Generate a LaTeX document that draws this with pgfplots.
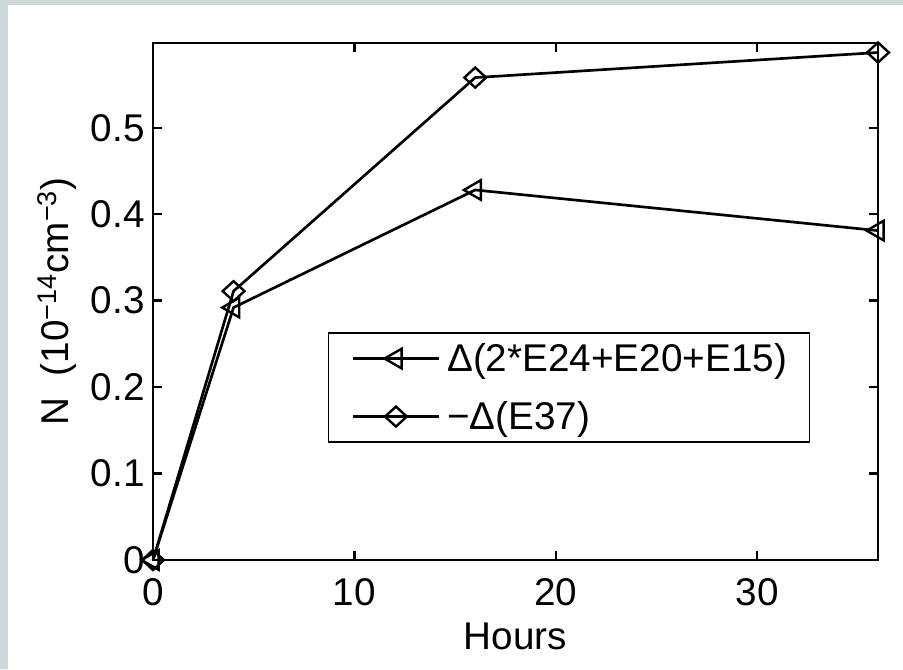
\documentclass[border=0pt]{standalone}
\usepackage{pgfplots}
\pgfplotsset{compat=1.18}
\usepackage{fontspec}
\setmainfont{Liberation Sans}
\definecolor{bgc}{HTML}{CFD8DB}
\newcommand{\F}{\fontsize{29}{34}\selectfont}
\begin{document}
\begin{tikzpicture}
\useasboundingbox (0,0) rectangle (677.25pt,501.75pt);
\fill[bgc] (0,0) rectangle (677.25pt,501.75pt);
\fill[white] (6pt,0) rectangle (677.25pt,498pt);
\begin{axis}[
  at={(114.75pt,81.75pt)}, anchor=south west,
  scale only axis, width=543.75pt, height=387.75pt,
  xmin=0, xmax=36, ymin=0, ymax=0.598,
  clip=false,
  axis line style={line width=1.8pt},
  tick style={line width=1.8pt, black},
  major tick length=6.75pt,
  tick align=inside,
  xtick={0,10,20,30}, xticklabels={0,10,20,30},
  ytick={0,0.1,0.2,0.3,0.4,0.5}, yticklabels={0,0.1,0.2,0.3,0.4,0.5},
  tick label style={font=\F, inner sep=0pt},
  xticklabel style={yshift=-13.5pt},
  yticklabel style={xshift=-6pt},
  xlabel={Hours},
  ylabel={N\ \ (10\textsuperscript{−14}cm\textsuperscript{−3})},
  label style={font=\F},
  xlabel style={at={(axis description cs:0.5,-0.174)}, anchor=base, inner sep=0pt},
  ylabel style={at={(axis description cs:-0.117,0.5)}, anchor=base, inner sep=0pt},
  legend cell align=left,
  legend image code/.code={\draw[mark repeat=2,mark phase=2,#1] plot coordinates {(0pt,0pt) (32.5pt,0pt) (65pt,0pt)};},
  legend style={at={(axis description cs:0.241,0.441)}, anchor=north west,
    draw=black, line width=1.3pt, font=\F,
    inner xsep=17pt, inner ysep=8pt, row sep=21pt, column sep=5pt,
    nodes={inner sep=0pt}},
]
\addplot[black, line width=2pt, mark=triangle, mark size=8.5pt, mark options={solid, line width=1.8pt, rotate=90}]
  coordinates {(0,0) (4,0.292) (16,0.428) (36,0.381)};
\addlegendentry{Δ(2*E24+E20+E15)}
\addplot[black, line width=2pt, mark=diamond, mark size=7.5pt, mark options={solid, line width=1.8pt, xscale=1.45}]
  coordinates {(0,0) (4,0.311) (16,0.558) (36,0.587)};
\addlegendentry{−Δ(E37)}
\end{axis}
\end{tikzpicture}
\end{document}
